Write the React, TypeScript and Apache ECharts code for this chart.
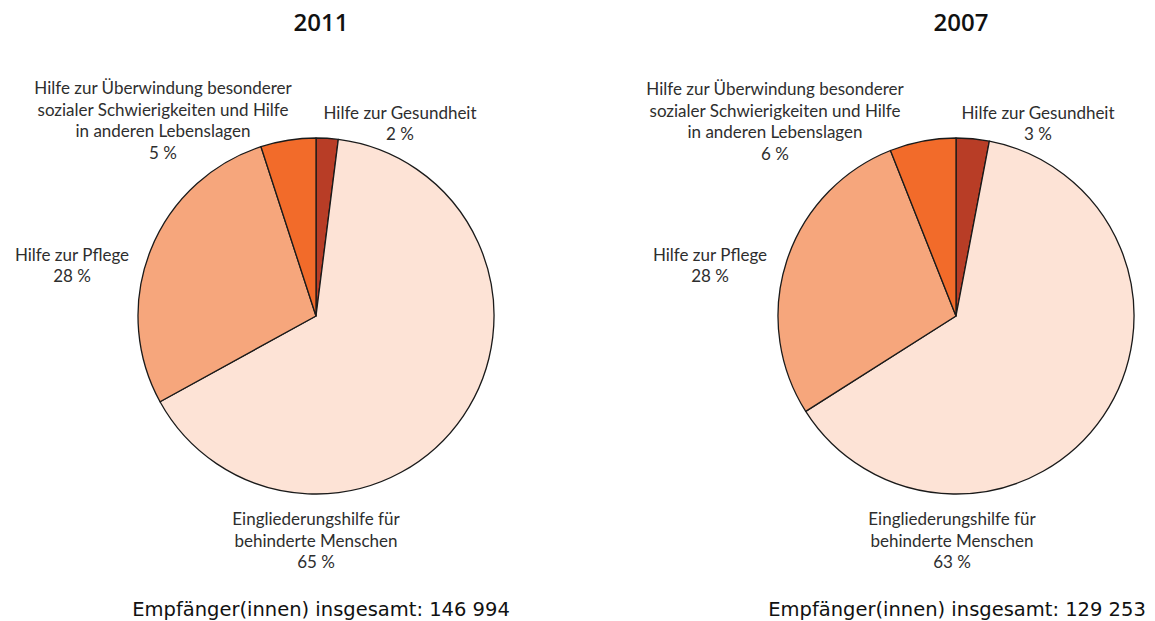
import React, { useEffect, useRef } from "react";
import * as echarts from "echarts";

const years = ["2011", "2007"];
const categories = [
  "Hilfe zur Gesundheit",
  "Eingliederungshilfe für\nbehinderte Menschen",
  "Hilfe zur Pflege",
  "Hilfe zur Überwindung besonderer\nsozialer Schwierigkeiten und Hilfe\nin anderen Lebenslagen",
];
const values2011 = [2, 65, 28, 5];
const values2007 = [3, 63, 28, 6];
const totals = [146994, 129253];
const colors = ["#b83d26", "#fde3d6", "#f6a67c", "#f26b2a"];

const LABEL_FONT = "Lato, 'Open Sans', sans-serif";
const TITLE_FONT = "'Open Sans', 'Noto Sans', sans-serif";
const TOTAL_FONT = "'DejaVu Sans', 'Open Sans', sans-serif";

const centers = [316, 956];
const totalCenters = [316, 952];
// label anchor positions (x, y center) per pie, per category index
const labelPos = [
  [
    [400, 123],
    [316, 540],
    [72, 265],
    [163, 120],
  ],
  [
    [1038, 123],
    [952, 540],
    [710, 265],
    [775, 121],
  ],
];

function fmtTotal(n: number) {
  return String(n).replace(/\B(?=(\d{3})+(?!\d))/g, " ");
}

export default function App() {
  const ref = useRef<HTMLDivElement>(null);
  useEffect(() => {
    if (!ref.current) return;
    const chart = echarts.init(ref.current, undefined, { renderer: "svg" });
    const seriesValues = [values2011, values2007];
    const option: any = {
      animation: false,
      backgroundColor: "#ffffff",
      title: [
        ...years.map((y, i) => ({
          text: y,
          left: centers[i],
          top: 4,
          textAlign: "center",
          textStyle: { fontFamily: TITLE_FONT, fontSize: 24, fontWeight: 600, color: "#111" },
        })),
        ...totals.map((t, i) => ({
          text: "Empfänger(innen) insgesamt: " + fmtTotal(t),
          left: totalCenters[i],
          top: 594,
          textAlign: "center",
          textStyle: { fontFamily: TOTAL_FONT, fontSize: 19.5, fontWeight: 400, color: "#111" },
        })),
      ],
      series: seriesValues.map((vals, si) => ({
        type: "pie",
        center: [centers[si], 316],
        radius: 178,
        startAngle: 90,
        clockwise: true,
        silent: true,
        itemStyle: { borderColor: "#1a1a1a", borderWidth: 1.3 },
        label: {
          show: true,
          position: "outside",
          formatter: (p: any) => p.name + "\n" + p.value + " %",
          fontFamily: LABEL_FONT,
          fontSize: 17,
          lineHeight: 21.5,
          color: "#2e2e2e",
          align: "center",
          overflow: "none",
          width: 400,
        },
        labelLine: { show: false },
        labelLayout: (params: any) => {
          const pos = labelPos[si][params.dataIndex];
          return { x: pos[0], y: pos[1], align: "center", verticalAlign: "middle" };
        },
        data: vals.map((v, i) => ({
          name: categories[i],
          value: v,
          itemStyle: { color: colors[i] },
        })),
      })),
    };
    chart.setOption(option);
    return () => chart.dispose();
  }, []);
  return (
    <div
      ref={ref}
      style={{ position: "absolute", left: 0, top: 0, width: 1155, height: 621 }}
    />
  );
}
